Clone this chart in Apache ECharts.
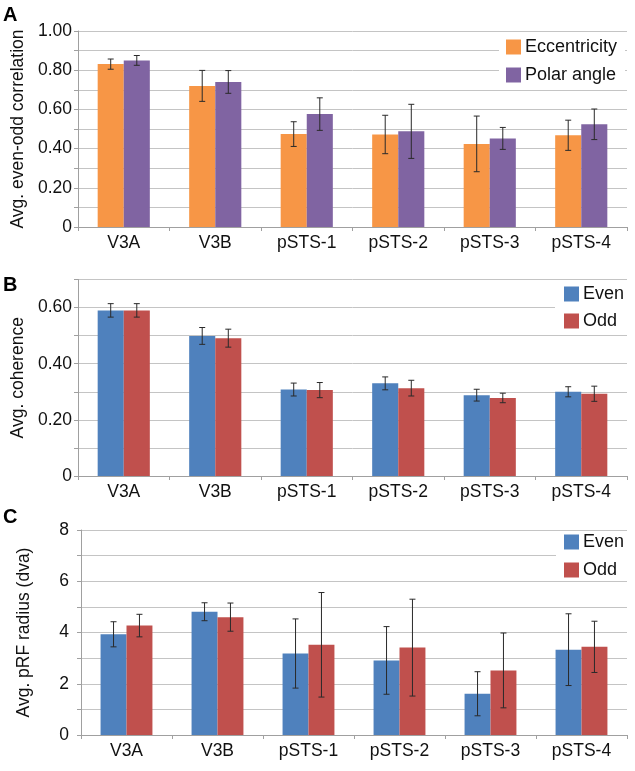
<!DOCTYPE html>
<html>
<head>
<meta charset="utf-8">
<script src="https://cdn.jsdelivr.net/npm/echarts@6/dist/echarts.min.js"></script>
<style>
html,body{margin:0;padding:0;background:#fff;}
#chart{width:635px;height:771px;}
</style>
</head>
<body>
<div id="chart"></div>
<script>
// ---- data ----
const categories = ['V3A', 'V3B', 'pSTS-1', 'pSTS-2', 'pSTS-3', 'pSTS-4'];

// Panel A: even-odd correlation
const eccentricityMean = [0.831, 0.720, 0.474, 0.472, 0.424, 0.468];
const eccentricityErr  = [0.026, 0.079, 0.063, 0.098, 0.142, 0.077];
const polarAngleMean   = [0.850, 0.740, 0.576, 0.488, 0.452, 0.524];
const polarAngleErr    = [0.025, 0.058, 0.083, 0.138, 0.056, 0.078];

// Panel B: coherence
const coherenceEvenMean = [0.590, 0.499, 0.308, 0.330, 0.288, 0.300];
const coherenceEvenErr  = [0.024, 0.030, 0.023, 0.023, 0.021, 0.018];
const coherenceOddMean  = [0.590, 0.491, 0.306, 0.313, 0.278, 0.293];
const coherenceOddErr   = [0.024, 0.032, 0.027, 0.028, 0.017, 0.027];

// Panel C: pRF radius (dva)
const radiusEvenMean = [3.93, 4.81, 3.18, 2.91, 1.61, 3.33];
const radiusEvenErr  = [0.49, 0.35, 1.35, 1.32, 0.86, 1.40];
const radiusOddMean  = [4.27, 4.60, 3.52, 3.41, 2.52, 3.44];
const radiusOddErr   = [0.44, 0.55, 2.04, 1.89, 1.46, 1.00];

// axis settings (ticks)
const axisA = {min: 0, max: 1.0, interval: 0.1};
const axisB = {min: 0, max: 0.7, interval: 0.1};
const axisC = {min: 0, max: 8, interval: 1};

const FONT = "'Liberation Sans', Arial, sans-serif";
const GAP = 0.43;
const gridColor = '#C4C4C4';
const axisColor = '#A0A0A0';

function fmtDec(v) {
  const k = Math.round(v * 10);
  if (k % 2 !== 0) return '';
  return k === 0 ? '0' : (k / 10).toFixed(2);
}
function fmtInt(v) {
  const k = Math.round(v);
  return (k % 2 === 0) ? String(k) : '';
}

const grids = [
  {left: 78, right: 8, top: 31, height: 196},
  {left: 78, right: 8, top: 279.5, height: 196.5},
  {left: 81, right: 8, top: 530, height: 205}
];

function xAxisFor(i) {
  return {
    type: 'category', gridIndex: i, data: categories,
    axisLine: {lineStyle: {color: axisColor}},
    axisTick: {show: true, length: 4, lineStyle: {color: axisColor}},
    axisLabel: {fontFamily: FONT, fontSize: 17.5, color: '#111', margin: 7}
  };
}
function yAxisFor(i, ax, fmt, name, nameGap, labelMargin) {
  return {
    type: 'value', gridIndex: i, min: ax.min, max: ax.max, interval: ax.interval,
    name: name, nameLocation: 'middle', nameGap: nameGap,
    nameTextStyle: {fontFamily: FONT, fontSize: 17.5, color: '#111'},
    axisLine: {show: true, lineStyle: {color: axisColor}},
    axisTick: {show: true, length: 4, lineStyle: {color: axisColor}},
    splitLine: {show: true, lineStyle: {color: gridColor, width: 1}},
    axisLabel: {fontFamily: FONT, fontSize: 17.5, color: '#111', margin: labelMargin, formatter: fmt}
  };
}

function barSeries(name, gi, data, color) {
  return {
    name: name, type: 'bar', xAxisIndex: gi, yAxisIndex: gi,
    data: data, barGap: '0%', barCategoryGap: (GAP * 100) + '%',
    itemStyle: {color: color}, z: 2
  };
}
function errSeries(gi, means, errs, slot) {
  const data = means.map((m, i) => [i, m, errs[i]]);
  return {
    type: 'custom', xAxisIndex: gi, yAxisIndex: gi, z: 5, silent: true,
    data: data,
    encode: {x: 0, y: 1},
    renderItem: function (params, api) {
      const idx = api.value(0), m = api.value(1), e = api.value(2);
      const band = api.size([1, 0])[0];
      const bw = band * (1 - GAP) / 2;
      const c = api.coord([idx, m]);
      const x = c[0] + (slot === 0 ? -bw / 2 : bw / 2);
      const yt = api.coord([idx, m + e])[1];
      const yb = api.coord([idx, m - e])[1];
      const cap = 3;
      const st = {stroke: '#2a2a2a', lineWidth: 1};
      return {
        type: 'group',
        children: [
          {type: 'line', shape: {x1: x, y1: yt, x2: x, y2: yb}, style: st},
          {type: 'line', shape: {x1: x - cap, y1: yt, x2: x + cap, y2: yt}, style: st},
          {type: 'line', shape: {x1: x - cap, y1: yb, x2: x + cap, y2: yb}, style: st}
        ]
      };
    }
  };
}
function legendFor(names, left, top, padding, itemGap) {
  return {
    data: names, orient: 'vertical', left: left, top: top,
    itemWidth: 15, itemHeight: 15, itemGap: itemGap,
    padding: padding, backgroundColor: '#fff',
    icon: 'rect',
    textStyle: {fontFamily: FONT, fontSize: 18, color: '#111', padding: [0, 0, 0, -1]}
  };
}

const ORANGE = '#F79646', PURPLE = '#8064A2', BLUE = '#4F81BD', RED = '#C0504D';

const option = {
  animation: false,
  backgroundColor: '#fff',
  grid: grids,
  xAxis: [xAxisFor(0), xAxisFor(1), xAxisFor(2)],
  yAxis: [
    yAxisFor(0, axisA, fmtDec, 'Avg. even-odd correlation', 45, 6),
    yAxisFor(1, axisB, fmtDec, 'Avg. coherence', 45, 6),
    yAxisFor(2, axisC, fmtInt, 'Avg. pRF radius (dva)', 48, 12)
  ],
  legend: [
    legendFor(['Eccentricity', 'Polar angle'], 499, 33, [5, 8, 3, 7], 10),
    legendFor(['Even ', 'Odd '], 555, 281, [4, 6, 1, 9], 9),
    legendFor(['Even', 'Odd'], 556, 532, [1, 6, 2, 8], 10)
  ],
  graphic: [
    {type: 'text', left: 3, top: 5, style: {text: 'A', font: "bold 20px 'Liberation Sans', Arial, sans-serif", fill: '#000'}},
    {type: 'text', left: 3, top: 275, style: {text: 'B', font: "bold 20px 'Liberation Sans', Arial, sans-serif", fill: '#000'}},
    {type: 'text', left: 3, top: 507, style: {text: 'C', font: "bold 20px 'Liberation Sans', Arial, sans-serif", fill: '#000'}}
  ],
  series: [
    barSeries('Eccentricity', 0, eccentricityMean, ORANGE),
    barSeries('Polar angle', 0, polarAngleMean, PURPLE),
    errSeries(0, eccentricityMean, eccentricityErr, 0),
    errSeries(0, polarAngleMean, polarAngleErr, 1),
    barSeries('Even ', 1, coherenceEvenMean, BLUE),
    barSeries('Odd ', 1, coherenceOddMean, RED),
    errSeries(1, coherenceEvenMean, coherenceEvenErr, 0),
    errSeries(1, coherenceOddMean, coherenceOddErr, 1),
    barSeries('Even', 2, radiusEvenMean, BLUE),
    barSeries('Odd', 2, radiusOddMean, RED),
    errSeries(2, radiusEvenMean, radiusEvenErr, 0),
    errSeries(2, radiusOddMean, radiusOddErr, 1)
  ]
};

const chart = echarts.init(document.getElementById('chart'), null, {renderer: 'canvas'});
chart.setOption(option);
</script>
</body>
</html>
